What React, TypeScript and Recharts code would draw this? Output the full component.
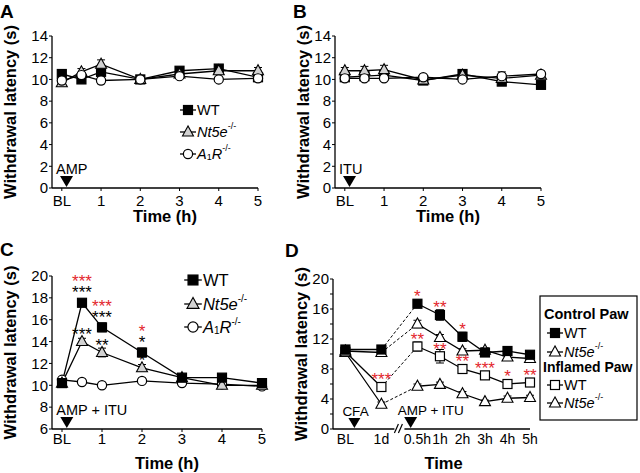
import React from "react";
import {
  LineChart,
  Line,
  XAxis,
  YAxis,
  ErrorBar,
  LabelList,
  ReferenceDot,
  Label,
} from "recharts";

const FONT = '"Liberation Sans", Arial, Helvetica, sans-serif';
const RED = "#e3262d";
const GRAY = "#d2d2d2";

/* ────────────────────────────────────────── */
/*  Data                                      */
/* ────────────────────────────────────────── */

// panels A–C: time after injection (h), BL = 0
const hours = [0, 0.5, 1, 2, 3, 4, 5];
const hourTicks = [0, 1, 2, 3, 4, 5];
const hourTickLabels = ["BL", "1", "2", "3", "4", "5"];

// A: AMP
const ampWT = [10.5, 10.0, 10.7, 10.0, 10.8, 11.0, 10.2];
const ampNt5e = [9.7, 10.7, 11.4, 10.0, 10.5, 10.8, 10.8];
const ampA1R = [9.9, 10.4, 9.9, 10.0, 10.3, 10.0, 10.1];
const ampWTErr = [0.3, 0.2, 0.3, 0.2, 0.2, 0.2, 0.2];
const ampNt5eErr = [0.3, 0.3, 0.4, 0.2, 0.2, 0.2, 0.3];
const ampA1RErr = [0.3, 0.2, 0.3, 0.2, 0.2, 0.2, 0.2];

// B: ITU
const ituWT = [10.2, 10.3, 10.4, 9.9, 10.5, 9.8, 9.5];
const ituNt5e = [10.8, 10.8, 10.9, 9.95, 10.4, 10.1, 10.4];
const ituA1R = [10.1, 10.1, 10.1, 10.2, 10.0, 10.3, 10.5];
const ituWTErr = [0.2, 0.2, 0.2, 0.3, 0.2, 0.2, 0.3];
const ituNt5eErr = [0.3, 0.4, 0.4, 0.4, 0.2, 0.2, 0.2];
const ituA1RErr = [0.2, 0.2, 0.2, 0.2, 0.2, 0.4, 0.2];

// C: AMP + ITU
const combWT = [10.2, 17.55, 15.3, 13.0, 10.7, 10.7, 10.2];
const combNt5e = [10.2, 14.0, 13.0, 11.6, 10.7, 10.0, 10.0];
const combA1R = [10.5, 10.3, 10.0, 10.4, 10.2, 10.1, 9.9];
const combWTErr = [0.2, 0.3, 0.4, 0.4, 0.2, 0.2, 0.2];
const combNt5eErr = [0.2, 0.3, 0.4, 0.3, 0.2, 0.2, 0.2];
const combA1RErr = [0.2, 0.2, 0.2, 0.2, 0.2, 0.2, 0.2];
const combWTStarsBlack = ["", "***", "***", "*", "", "", ""];
const combWTStarsRed = ["", "***", "***", "*", "", "", ""];
const combNt5eStars = ["", "***", "**", "*", "", "", ""];

// D: CFA inflamed vs control paw (broken time axis)
const cfaPos = [0, 1.6, 3.2, 4.2, 5.2, 6.2, 7.2, 8.2];
const cfaLabels = ["BL", "1d", "0.5h", "1h", "2h", "3h", "4h", "5h"];
const cfaBreak = 2.4;
const ctrlWT = [10.6, 10.6, 16.7, 15.2, 12.3, 10.2, 10.4, 9.9];
const ctrlNt5e = [10.4, 10.2, 14.0, 12.2, 10.4, 10.5, 9.6, 9.4];
const inflWT = [10.3, 5.6, 11.0, 9.7, 8.0, 7.15, 6.0, 6.2];
const inflNt5e = [10.2, 3.3, 5.7, 5.95, 4.7, 3.65, 4.1, 4.2];
const ctrlWTErr = [0.3, 0.3, 0.5, 0.7, 0.6, 0.3, 0.3, 0.3];
const ctrlNt5eErr = [0.3, 0.3, 0.5, 0.4, 0.3, 0.3, 0.3, 0.3];
const inflWTErr = [0.3, 0.4, 0.6, 0.9, 0.5, 0.4, 0.5, 0.4];
const inflNt5eErr = [0.3, 0.3, 0.3, 0.3, 0.3, 0.2, 0.3, 0.3];
const ctrlWTStars = ["", "", "*", "**", "*", "", "", ""];
const inflWTStars = ["", "***", "**", "**", "**", "***", "*", "**"];

/* ────────────────────────────────────────── */
/*  Markers                                   */
/* ────────────────────────────────────────── */

function drawMarker(kind: string, cx: number, cy: number, fill: string, s = 1) {
  if (kind === "square")
    return (
      <rect x={cx - 4.5 * s} y={cy - 4.5 * s} width={9 * s} height={9 * s}
        fill={fill} stroke="#000" strokeWidth={1.2} />
    );
  if (kind === "triangle")
    return (
      <polygon
        points={`${cx},${cy - 6 * s} ${cx - 5.5 * s},${cy + 4 * s} ${cx + 5.5 * s},${cy + 4 * s}`}
        fill={fill} stroke="#000" strokeWidth={1.1} strokeLinejoin="miter" />
    );
  return <circle cx={cx} cy={cy} r={4.6 * s} fill={fill} stroke="#000" strokeWidth={1.2} />;
}

const dotOf = (kind: string, fill: string) => (p: any) => {
  if (p.cx == null || p.cy == null || isNaN(p.cy) || p.value == null)
    return <g key={`e${p.index}`} />;
  return <g key={`m${p.index}`}>{drawMarker(kind, p.cx, p.cy, fill)}</g>;
};

// one or two stacked rows of significance stars above a point (lowest row first)
type StarRow = { list: string[]; color: string };
const starsOf = (rows: StarRow[], above: number, gap = 11, fs = 17) => (p: any) => {
  const x = p.x ?? p.viewBox?.x;
  const y = p.y ?? p.viewBox?.y;
  const i = p.index;
  if (x == null || y == null || i == null || !rows[0].list[i]) return null;
  const top = rows.length - 1;
  return (
    <text textAnchor="middle" fontSize={fs} fontFamily={FONT}>
      {rows
        .map((r, j) => ({ r, j }))
        .reverse()
        .map(({ r, j }) => (
          <tspan key={j} x={x} y={y - above - (j) * gap + 0.55 * fs} fill={r.color}>
            {r.list[i]}
          </tspan>
        ))}
    </text>
  );
};

const arrowShape = (text: string, fs: number, tw: number, th: number, textDx: number) => (p: any) => {
  const { cx, cy } = p;
  return (
    <g>
      <polygon points={`${cx - tw / 2},${cy - th - 1} ${cx + tw / 2},${cy - th - 1} ${cx},${cy - 1}`} fill="#000" />
      <text x={cx + textDx} y={cy - th - 3} fontSize={fs} fontFamily={FONT} fill="#000">{text}</text>
    </g>
  );
};

const Nt5eLabel = ({ sup = 9 }: { sup?: number }) => (
  <>
    <tspan fontStyle="italic">Nt5e</tspan>
    <tspan fontSize={sup} dy={-6}>-/-</tspan>
  </>
);
const A1RLabel = ({ sup = 9 }: { sup?: number }) => (
  <>
    <tspan fontStyle="italic">A</tspan>
    <tspan fontSize={sup} dy={3}>1</tspan>
    <tspan fontStyle="italic" dy={-3}>R</tspan>
    <tspan fontSize={sup} dy={-6}>-/-</tspan>
  </>
);

/* ────────────────────────────────────────── */
/*  Panels A–C                                */
/* ────────────────────────────────────────── */

interface SeriesDef {
  key: string;
  kind: string;
  fill: string;
  values: number[];
  err: number[];
  stars?: StarRow[];
  starsAbove?: number;
}

const axisStyle = { stroke: "#000", strokeWidth: 1.3 };
const tickStyle = { fill: "#000", fontSize: 15, fontFamily: FONT };

function ylabel(dx: number, cyShift: number) {
  return (p: any) => {
    const vb = p.viewBox;
    const cx = vb.x + vb.width - dx;
    const cy = vb.y + vb.height / 2 + cyShift;
    return (
      <text x={cx} y={cy} transform={`rotate(-90 ${cx} ${cy})`} textAnchor="middle"
        dominantBaseline="central" fontSize={16.5} fontWeight="bold" fontFamily={FONT} fill="#000">
        Withdrawal latency (s)
      </text>
    );
  };
}

function xlabel(text: string, below: number, dx = 10) {
  return (p: any) => {
    const vb = p.viewBox;
    return (
      <text x={vb.x + vb.width / 2 + dx} y={vb.y + below} textAnchor="middle"
        dominantBaseline="central" fontSize={16.5} fontWeight="bold" fontFamily={FONT} fill="#000">
        {text}
      </text>
    );
  };
}

function TimePanel(props: {
  left: number; top: number; width: number; height: number;
  margin: any; xHeight: number; yDomain: [number, number]; yTicks: number[];
  series: SeriesDef[]; arrow: string; ylDx: number; ylShift: number;
  tickMargin: number; titleBelow: number;
}) {
  const rows = hours.map((t, i) => {
    const r: any = { t };
    props.series.forEach((s) => {
      r[s.key] = s.values[i];
      r[s.key + "Err"] = s.err[i];
    });
    return r;
  });
  return (
    <div style={{ position: "absolute", left: props.left, top: props.top }}>
      <LineChart width={props.width} height={props.height} data={rows} margin={props.margin}>
        <XAxis type="number" dataKey="t" domain={[-0.25, 5]} ticks={hourTicks} interval={0}
          tickFormatter={(v) => hourTickLabels[hourTicks.indexOf(v)]}
          axisLine={axisStyle} tickLine={{ stroke: "#000" }} tickSize={3}
          tickMargin={props.tickMargin} tick={tickStyle} height={props.xHeight}>
          <Label content={xlabel("Time (h)", props.titleBelow)} />
        </XAxis>
        <YAxis type="number" domain={props.yDomain} ticks={props.yTicks} interval={0}
          axisLine={axisStyle} tickLine={{ stroke: "#000" }} tickSize={3}
          tickMargin={1} tick={tickStyle} width={52}>
          <Label content={ylabel(props.ylDx, props.ylShift)} />
        </YAxis>
        <ReferenceDot x={0.12} y={props.yDomain[0]} ifOverflow="visible" r={0}
          shape={arrowShape(props.arrow, 14.5, 13, 11, -10.5)} />
        {props.series.map((s) => (
          <Line key={s.key} dataKey={s.key} type="linear" stroke="#000" strokeWidth={1.3}
            dot={dotOf(s.kind, s.fill)} activeDot={false} isAnimationActive={false}>
            <ErrorBar dataKey={s.key + "Err"} width={4} stroke="#000" strokeWidth={1} direction="y" />
            {s.stars && (
              <LabelList dataKey={s.key} content={starsOf(s.stars, s.starsAbove ?? 11)} />
            )}
          </Line>
        ))}
      </LineChart>
    </div>
  );
}

/* ────────────────────────────────────────── */
/*  Panel D                                   */
/* ────────────────────────────────────────── */

const dSeries = [
  { key: "inflNt5e", kind: "triangle", fill: "#fff", values: inflNt5e, err: inflNt5eErr, stars: null as any },
  { key: "inflWT", kind: "square", fill: "#fff", values: inflWT, err: inflWTErr, stars: inflWTStars },
  { key: "ctrlNt5e", kind: "triangle", fill: "#fff", values: ctrlNt5e, err: ctrlNt5eErr, stars: null as any },
  { key: "ctrlWT", kind: "square", fill: "#000", values: ctrlWT, err: ctrlWTErr, stars: ctrlWTStars },
];
const dYTicks = [0, 2, 4, 6, 8, 10, 12, 14, 16, 18, 20];
const dYLabels = [0, 4, 8, 12, 16, 20];

function PanelD() {
  const rows: any[] = cfaPos.map((t, i) => {
    const r: any = { t };
    dSeries.forEach((s) => {
      r[s.key] = s.values[i];
      r[s.key + "Err"] = s.err[i];
      r[s.key + "Dash"] = i === 1 || i === 2 ? s.values[i] : null;
      if (s.stars) r[s.key + "Star"] = s.stars[i];
    });
    return r;
  });
  rows.splice(2, 0, { t: cfaBreak });

  const breakShape = (p: any) => (
    <g>
      <rect x={p.cx - 5} y={p.cy - 2} width={10} height={4} fill="#fff" />
      <line x1={p.cx - 5} y1={p.cy + 4} x2={p.cx - 1} y2={p.cy - 5} stroke="#000" strokeWidth={1.2} />
      <line x1={p.cx - 1} y1={p.cy + 4} x2={p.cx + 3} y2={p.cy - 5} stroke="#000" strokeWidth={1.2} />
    </g>
  );

  const dStar = (p: any) => {
    const x = p.x ?? p.viewBox?.x;
    const y = p.y ?? p.viewBox?.y;
    if (!p.value || x == null || y == null) return null;
    return (
      <text x={x} y={y - 11 + 0.55 * 17} textAnchor="middle" fill={RED} fontSize={17} fontFamily={FONT}>
        {p.value}
      </text>
    );
  };

  return (
    <div style={{ position: "absolute", left: 281, top: 236 }}>
      <LineChart width={359} height={237} data={rows} margin={{ top: 43, right: 110, bottom: 0, left: 0 }}>
        <XAxis type="number" dataKey="t" domain={[-0.55, 8.2]} ticks={cfaPos} interval={0}
          tickFormatter={(v) => cfaLabels[cfaPos.indexOf(v)]}
          axisLine={axisStyle} tickLine={false} tickSize={3} tickMargin={2}
          tick={{ ...tickStyle, fontSize: 14 }} height={44}>
          <Label content={xlabel("Time", 34, 12)} />
        </XAxis>
        <YAxis type="number" domain={[0, 20]} ticks={dYTicks} interval={0}
          tickFormatter={(v) => (dYLabels.includes(v) ? String(v) : "")}
          axisLine={axisStyle} tickLine={{ stroke: "#000" }} tickSize={3} tickMargin={1}
          tick={tickStyle} width={52}>
          <Label content={ylabel(32, 0)} />
        </YAxis>
        <ReferenceDot x={0.4} y={0} ifOverflow="visible" r={0}
          shape={arrowShape("CFA", 13.5, 12, 10, -12)} />
        <ReferenceDot x={2.9} y={0} ifOverflow="visible" r={0}
          shape={arrowShape("AMP + ITU", 13.5, 13, 11, -13)} />
        <ReferenceDot x={cfaBreak} y={0} ifOverflow="visible" r={0} shape={breakShape} />
        {dSeries.map((s) => (
          <Line key={s.key + "Dash"} dataKey={s.key + "Dash"} type="linear" stroke="#000"
            strokeWidth={1} strokeDasharray="3 2" connectNulls dot={false} activeDot={false}
            isAnimationActive={false} />
        ))}
        {dSeries.map((s) => (
          <Line key={s.key} dataKey={s.key} type="linear" stroke="#000" strokeWidth={1.3}
            dot={dotOf(s.kind, s.fill)} activeDot={false} isAnimationActive={false}>
            <ErrorBar dataKey={s.key + "Err"} width={4} stroke="#000" strokeWidth={1} direction="y" />
            {s.stars && <LabelList dataKey={s.key + "Star"} content={dStar} />}
          </Line>
        ))}
      </LineChart>
    </div>
  );
}

/* ────────────────────────────────────────── */
/*  Legends & panel letters                    */
/* ────────────────────────────────────────── */

function LegendRow({ x, y, kind, fill, fs, s = 1, children }: any) {
  return (
    <g>
      <line x1={x - 8 * s} x2={x + 8 * s} y1={y} y2={y} stroke="#000" strokeWidth={1.3} />
      {drawMarker(kind, x, y, fill, s)}
      <text x={x + 9 * s} y={y} dominantBaseline="central" fontSize={fs} fontFamily={FONT} fill="#000">
        {children}
      </text>
    </g>
  );
}

function Overlay() {
  const letter = { fontSize: 19, fontWeight: "bold" as const, fontFamily: FONT, fill: "#000" };
  return (
    <svg width={640} height={473} style={{ position: "absolute", left: 0, top: 0, pointerEvents: "none" }}>
      <text x={0} y={18} {...letter}>A</text>
      <text x={293} y={18} {...letter}>B</text>
      <text x={0} y={256} {...letter}>C</text>
      <text x={285} y={257} {...letter}>D</text>

      {/* A legend */}
      <LegendRow x={188} y={110} kind="square" fill="#000" fs={14.5}>WT</LegendRow>
      <LegendRow x={188} y={132} kind="triangle" fill={GRAY} fs={14.5}><Nt5eLabel /></LegendRow>
      <LegendRow x={188} y={154} kind="circle" fill="#fff" fs={14.5}><A1RLabel /></LegendRow>

      {/* C legend */}
      <LegendRow x={193} y={280} kind="square" fill="#000" fs={16.5} s={1.1}>WT</LegendRow>
      <LegendRow x={193} y={304} kind="triangle" fill={GRAY} fs={16.5} s={1.1}><Nt5eLabel sup={10} /></LegendRow>
      <LegendRow x={193} y={327} kind="circle" fill="#fff" fs={16.5} s={1.1}><A1RLabel sup={10} /></LegendRow>

      {/* D legend */}
      <rect x={540} y={296} width={97} height={124} fill="#fff" stroke="#000" strokeWidth={1.2} />
      <text x={544} y={314} dominantBaseline="central" fontSize={14.5} fontWeight="bold" fontFamily={FONT}>Control Paw</text>
      <LegendRow x={555} y={333} kind="square" fill="#000" fs={14.5}>WT</LegendRow>
      <LegendRow x={555} y={352} kind="triangle" fill="#fff" fs={14.5}><Nt5eLabel /></LegendRow>
      <text x={543} y={367} dominantBaseline="central" fontSize={14} fontWeight="bold" fontFamily={FONT}>Inflamed Paw</text>
      <LegendRow x={555} y={385} kind="square" fill="#fff" fs={14.5}>WT</LegendRow>
      <LegendRow x={555} y={403} kind="triangle" fill="#fff" fs={14.5}><Nt5eLabel /></LegendRow>
    </svg>
  );
}

/* ────────────────────────────────────────── */
/*  App                                       */
/* ────────────────────────────────────────── */

export default function App() {
  const abTicks = [0, 2, 4, 6, 8, 10, 12, 14];
  const cTicks = [6, 8, 10, 12, 14, 16, 18, 20];
  return (
    <div style={{ position: "relative", width: 640, height: 473, background: "#fff", fontFamily: FONT }}>
      <style>{`body{margin:0}`}</style>
      <TimePanel left={0} top={0} width={300} height={236}
        margin={{ top: 36, right: 42, bottom: 0, left: 0 }} xHeight={48}
        yDomain={[0, 14]} yTicks={abTicks} arrow="AMP" ylDx={42} ylShift={0}
        tickMargin={4} titleBelow={28}
        series={[
          { key: "wt", kind: "square", fill: "#000", values: ampWT, err: ampWTErr },
          { key: "nt", kind: "triangle", fill: GRAY, values: ampNt5e, err: ampNt5eErr },
          { key: "a1", kind: "circle", fill: "#fff", values: ampA1R, err: ampA1RErr },
        ]} />
      <TimePanel left={283} top={0} width={300} height={236}
        margin={{ top: 36, right: 42, bottom: 0, left: 0 }} xHeight={48}
        yDomain={[0, 14]} yTicks={abTicks} arrow="ITU" ylDx={32} ylShift={0}
        tickMargin={4} titleBelow={28}
        series={[
          { key: "wt", kind: "square", fill: "#000", values: ituWT, err: ituWTErr },
          { key: "nt", kind: "triangle", fill: GRAY, values: ituNt5e, err: ituNt5eErr },
          { key: "a1", kind: "circle", fill: "#fff", values: ituA1R, err: ituA1RErr },
        ]} />
      <TimePanel left={0} top={236} width={300} height={237}
        margin={{ top: 40, right: 38, bottom: 0, left: 0 }} xHeight={44}
        yDomain={[6, 20]} yTicks={cTicks} arrow="AMP + ITU" ylDx={42} ylShift={0}
        tickMargin={1} titleBelow={34}
        series={[
          { key: "a1", kind: "circle", fill: "#fff", values: combA1R, err: combA1RErr },
          {
            key: "nt", kind: "triangle", fill: GRAY, values: combNt5e, err: combNt5eErr,
            stars: [{ list: combNt5eStars, color: "#000" }], starsAbove: 11,
          },
          {
            key: "wt", kind: "square", fill: "#000", values: combWT, err: combWTErr,
            stars: [
              { list: combWTStarsBlack, color: "#000" },
              { list: combWTStarsRed, color: RED },
            ],
            starsAbove: 14,
          },
        ]} />
      <PanelD />
      <Overlay />
    </div>
  );
}
